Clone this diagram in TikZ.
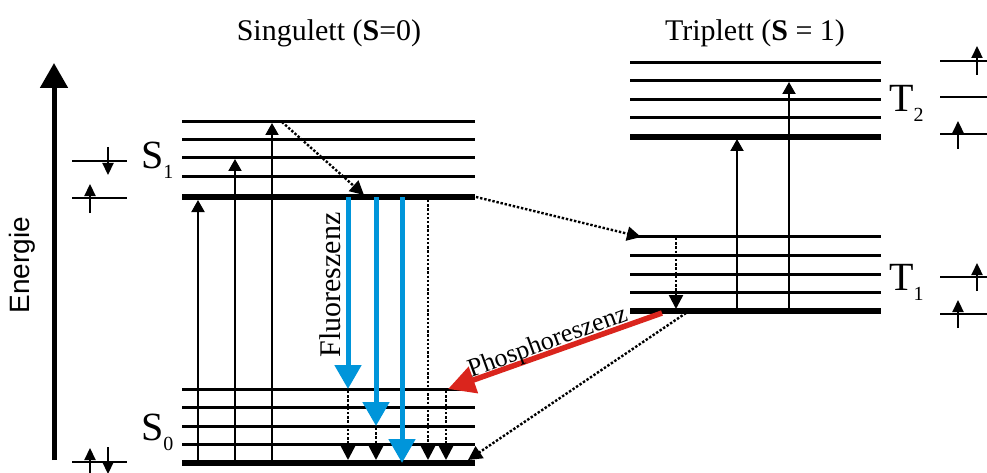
\documentclass[tikz,border=0pt]{standalone}
\usepackage{fontspec}
\setmainfont{Liberation Serif}
\newfontfamily\energyfont{Liberation Sans}
\usetikzlibrary{arrows.meta}
\definecolor{fluoblue}{RGB}{0,149,218}
\definecolor{phosred}{RGB}{218,37,29}
\tikzset{
  lvl/.style={line width=3pt},
  lvlground/.style={line width=6pt},
  excite/.style={line width=2pt,-{Triangle[length=12pt,width=13pt]}},
  relax/.style={line width=2.4pt,dash pattern=on 2.4pt off 1.8pt,-{Triangle[length=14pt,width=14pt]}},
  fluo/.style={fluoblue,line width=5pt,-{Triangle[length=24pt,width=26pt]}},
  phos/.style={phosred,line width=5.5pt,-{Triangle[length=27pt,width=27pt]}},
  axis/.style={line width=5pt,-{Triangle[length=25pt,width=27pt]}},
  spinline/.style={line width=1.2pt},
  spin/.style={line width=2.2pt,-{Triangle[length=12pt,width=11pt]}},
  bigtext/.style={font=\fontsize{30}{36}\selectfont,inner sep=0pt},
  statelabel/.style={font=\fontsize{40}{44}\selectfont,inner sep=0pt},
}
\newcommand{\stsub}[1]{\raisebox{-0.25em}{\fontsize{20}{22}\selectfont #1}}
\begin{document}
\begin{tikzpicture}[x=1pt,y=-1pt]
\useasboundingbox (0,0) rectangle (987,473);

% ---- titles ----
\node[bigtext] (titleS) at (329,33) {Singulett (\textbf{S}=0)};
\node[bigtext] (titleT) at (755,33) {Triplett (\textbf{S} = 1)};

% ---- energy axis ----
\coordinate (ebot) at (54,460);
\coordinate (etop) at (54,63);
\draw[axis] (ebot) -- (etop);
\node[font=\energyfont\fontsize{28}{32}\selectfont,rotate=90,inner sep=0pt] (energie) at (22,265) {Energie};

% ---- energy levels ----
% S1
\foreach \y in {122,140,158,177} \draw[lvl] (182,\y) -- (475,\y);
\draw[lvlground] (182,197) -- (475,197);
% S0
\foreach \y in {389,407,426,444} \draw[lvl] (182,\y) -- (475,\y);
\draw[lvlground] (182,463) -- (475,463);
% T2
\foreach \y in {63,81,100,118} \draw[lvl] (630,\y) -- (881,\y);
\draw[lvlground] (630,137) -- (881,137);
% T1
\foreach \y in {236,255,274,292} \draw[lvl] (630,\y) -- (881,\y);
\draw[lvlground] (630,311) -- (881,311);

% ---- state labels ----
\node[statelabel,anchor=base west] (S1) at (141,168) {S\stsub{1}};
\node[statelabel,anchor=base west] (S0) at (141,440) {S\stsub{0}};
\node[statelabel,anchor=base west] (T2) at (889,112) {T\stsub{2}};
\node[statelabel,anchor=base west] (T1) at (889,290) {T\stsub{1}};

% ---- absorption S0 -> S1 ----
\coordinate (a1s) at (198,461); \coordinate (a1e) at (198,200);
\coordinate (a2s) at (235,461); \coordinate (a2e) at (235,159);
\coordinate (a3s) at (272,461); \coordinate (a3e) at (272,123);
\draw[excite] (a1s) -- (a1e);
\draw[excite] (a2s) -- (a2e);
\draw[excite] (a3s) -- (a3e);

% ---- excitation T1 -> T2 ----
\coordinate (b1s) at (737,309); \coordinate (b1e) at (737,139);
\coordinate (b2s) at (789,309); \coordinate (b2e) at (789,82);
\draw[excite] (b1s) -- (b1e);
\draw[excite] (b2s) -- (b2e);

% ---- radiationless relaxation ----
\coordinate (vrS) at (282,122);  \coordinate (vrE) at (364,195);
\draw[relax] (vrS) -- (vrE);
\coordinate (iscS) at (476,197); \coordinate (iscE) at (641,237);
\draw[relax] (iscS) -- (iscE);
\coordinate (vtS) at (676,238);  \coordinate (vtE) at (676,309);
\draw[relax] (vtS) -- (vtE);
\coordinate (riscS) at (686,313); \coordinate (riscE) at (468,460);
\draw[relax] (riscS) -- (riscE);

% ---- fluorescence ----
\coordinate (f1s) at (348,197); \coordinate (f1e) at (348,389);
\coordinate (f2s) at (376,197); \coordinate (f2e) at (376,426);
\coordinate (f3s) at (402,197); \coordinate (f3e) at (402,463);
\draw[fluo] (f1s) -- (f1e);
\draw[fluo] (f2s) -- (f2e);
\draw[fluo] (f3s) -- (f3e);
\node[bigtext,rotate=90] (fluolabel) at (330,285) {Fluoreszenz};

% ---- vibrational relaxation in S0 ----
\coordinate (d1s) at (348,391); \coordinate (d1e) at (348,460);
\coordinate (d2s) at (376,428); \coordinate (d2e) at (376,460);
\coordinate (d3s) at (428,200); \coordinate (d3e) at (428,460);
\coordinate (d4s) at (446,391); \coordinate (d4e) at (446,460);
\draw[relax] (d1s) -- (d1e);
\draw[relax] (d2s) -- (d2e);
\draw[relax] (d3s) -- (d3e);
\draw[relax] (d4s) -- (d4e);

% ---- phosphorescence ----
\coordinate (pS) at (662,313); \coordinate (pE) at (448,389);
\draw[phos] (pS) -- (pE);
\node[font=\fontsize{26}{30}\selectfont,inner sep=0pt,rotate=20] (phoslabel) at (548,343) {Phosphoreszenz};

% ---- spin schemes ----
% S1
\draw[spinline] (72,161) -- (127,161);
\draw[spinline] (72,198) -- (127,198);
\coordinate (s1dS) at (108,147); \coordinate (s1dE) at (108,175);
\coordinate (s1uS) at (90,213);  \coordinate (s1uE) at (90,184);
\draw[spin] (s1dS) -- (s1dE);
\draw[spin] (s1uS) -- (s1uE);
% S0
\draw[spinline] (72,462) -- (127,462);
\coordinate (s0uS) at (90,476);  \coordinate (s0uE) at (90,448);
\coordinate (s0dS) at (108,447); \coordinate (s0dE) at (108,474);
\draw[spin] (s0uS) -- (s0uE);
\draw[spin] (s0dS) -- (s0dE);
% T2
\draw[spinline] (940,61) -- (987,61);
\draw[spinline] (940,97) -- (987,97);
\draw[spinline] (940,134) -- (987,134);
\coordinate (t2aS) at (977,75);  \coordinate (t2aE) at (977,46);
\coordinate (t2bS) at (958,149); \coordinate (t2bE) at (958,121);
\draw[spin] (t2aS) -- (t2aE);
\draw[spin] (t2bS) -- (t2bE);
% T1
\draw[spinline] (940,277) -- (987,277);
\draw[spinline] (940,314) -- (987,314);
\coordinate (t1aS) at (977,291); \coordinate (t1aE) at (977,263);
\coordinate (t1bS) at (958,328); \coordinate (t1bE) at (958,300);
\draw[spin] (t1aS) -- (t1aE);
\draw[spin] (t1bS) -- (t1bE);
\end{tikzpicture}
\end{document}
